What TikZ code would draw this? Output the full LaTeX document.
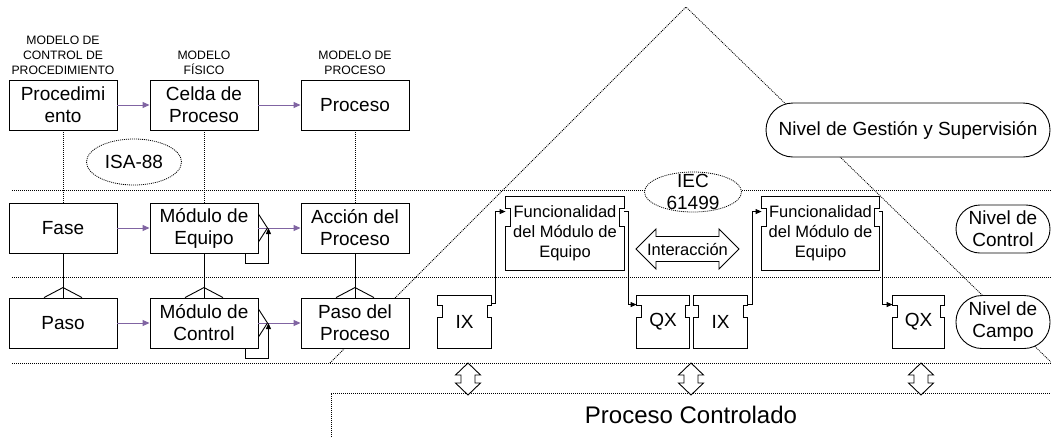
\documentclass[tikz,border=0pt]{standalone}
\usepackage{fontspec}
\setmainfont{Liberation Sans}
\usepackage{xcolor}
\usetikzlibrary{arrows.meta,shapes.geometric}
\definecolor{lila}{RGB}{128,100,162}

\newcommand{\bloque}[4]{%
  \draw (#1.north west) -- (#1.north east)
    -- ([yshift=-#2pt]#1.north east) -- ([shift={(-#4pt,-#2pt)}]#1.north east)
    -- ([shift={(-#4pt,-#3pt)}]#1.north east) -- ([yshift=-#3pt]#1.north east)
    -- (#1.south east) -- (#1.south west)
    -- ([yshift=-#3pt]#1.north west) -- ([shift={(#4pt,-#3pt)}]#1.north west)
    -- ([shift={(#4pt,-#2pt)}]#1.north west) -- ([yshift=-#2pt]#1.north west) -- cycle;}

\tikzset{
  texto/.style={font=\fontsize{19}{22}\selectfont},
  caja/.style={texto, draw, fill=white, minimum width=108pt, minimum height=50pt, inner sep=0pt, align=center},
  titulo/.style={font=\fontsize{12.2}{15}\selectfont, align=center, inner sep=0pt, anchor=south},
  punteada/.style={dash pattern=on 1pt off 1pt, line width=0.8pt},
  flecha/.style={lila, line width=1pt, -{Triangle[length=7pt,width=6pt]}},
  punta/.style={-{Triangle[length=6pt,width=5pt]}},
  nivel/.style={texto, draw, fill=white, align=center, inner sep=0pt},
  fb/.style={texto, inner sep=0pt, minimum width=53pt, minimum height=52pt},
  fbgrande/.style={font=\fontsize{16.5}{20}\selectfont, align=center, inner sep=0pt, minimum width=118pt, minimum height=73pt}
}

\begin{document}
\begin{tikzpicture}[x=1pt,y=-1pt,line width=0.9pt]
\useasboundingbox (0,0) rectangle (1051,437);

% niveles
\foreach \y in {190,277,363}
  \draw[punteada] (12,\y) -- (1051,\y);
\draw[punteada] (331,437) -- (331,393) -- (1051,393);
\draw[punteada] (330,363) -- (686,7) -- (1054,365);

% ISA-88
\node[titulo] (t1) at (63,75) {MODELO DE\\CONTROL DE\\PROCEDIMIENTO};
\node[titulo] (t2) at (204,75) {MODELO\\FÍSICO};
\node[titulo] (t3) at (355,75) {MODELO DE\\PROCESO};

\node[caja] (proc) at (63,105) {Procedimi\\ento};
\node[caja] (celda) at (204,105) {Celda de\\Proceso};
\node[caja] (proceso) at (355,105) {Proceso};
\node[caja] (fase) at (63,228) {Fase};
\node[caja] (meq) at (204,228) {Módulo de\\Equipo};
\node[caja] (accion) at (355,228) {Acción del\\Proceso};
\node[caja] (paso) at (63,323) {Paso};
\node[caja] (mctl) at (204,323) {Módulo de\\Control};
\node[caja] (pasop) at (355,323) {Paso del\\Proceso};

\node[texto, draw, ellipse, punteada, minimum width=95pt, minimum height=46pt, inner sep=0pt] (isa) at (134,162) {ISA-88};

\draw[flecha] (proc) -- (celda);
\draw[flecha] (celda) -- (proceso);
\draw[flecha] (fase) -- (meq);
\draw[flecha] (meq) -- (accion);
\draw[flecha] (paso) -- (mctl);
\draw[flecha] (mctl) -- (pasop);

\draw[punteada] (proc) -- (fase);
\draw[punteada] (celda) -- (meq);
\draw[punteada] (proceso) -- (accion);

\draw (fase) -- (paso);
\draw (meq) -- (mctl);
\draw (accion) -- (pasop);
\foreach \n in {paso,mctl,pasop}
  \draw ([xshift=-19pt]\n.north) -- ([yshift=10pt]\n.north) -- ([xshift=19pt]\n.north);

\foreach \n in {meq,mctl} {
  \draw ([yshift=14pt]\n.east) -- ([xshift=9pt]\n.east) -- ([yshift=-14pt]\n.east);
  \draw[punta] ([xshift=41pt]\n.south) -- ++(0,10) -| ([xshift=10pt]\n.east);
}

% IEC 61499
\node[draw, ellipse, punteada, fill=white, minimum width=97pt, minimum height=40pt] (iec) at (693,192) {};
\node[texto, align=center, inner sep=0pt] (iect) at (iec) {IEC\\61499};

\node[fbgrande] (func1) at (565,233.5) {Funcionalidad\\del Módulo de\\Equipo};
\node[fbgrande, minimum width=117pt] (func2) at (820.5,233.5) {Funcionalidad\\del Módulo de\\Equipo};
\bloque{func1}{12}{30}{5}
\bloque{func2}{12}{30}{5}

\node[fb] (ix1) at (464.5,322) {IX};
\node[fb, minimum width=52pt] (qx1) at (663,322) {QX};
\node[fb] (ix2) at (720.5,322) {IX};
\node[fb, minimum width=51pt] (qx2) at (918.5,322) {QX};
\foreach \n in {ix1,qx1,ix2,qx2} {
  \bloque{\n}{10}{22}{4.5}
}

\draw[punta] ([yshift=-8pt]ix1.north east) -- ++(4,0) |- ([yshift=-15pt]func1.north west);
\draw[punta] ([yshift=-15pt]func1.north east) -- ++(4,0) |- ([yshift=-9pt]qx1.north west);
\draw[punta] ([yshift=-9pt]ix2.north east) -- ++(5,0) |- ([yshift=-15pt]func2.north west);
\draw[punta] ([yshift=-15pt]func2.north east) -- ++(3,0) |- ([yshift=-9pt]qx2.north west);

\node[font=\fontsize{16.5}{20}\selectfont, inner sep=0pt] (inter) at (687.5,249) {Interacción};
\draw ([xshift=-51.5pt]inter.center) -- ++(20,-20) -- ++(0,7.5) -- ++(63,0) -- ++(0,-7.5)
  -- ++(20,20) -- ++(-20,20) -- ++(0,-7.5) -- ++(-63,0) -- ++(0,7.5) -- cycle;

% niveles de la piramide
\node[nivel, rounded corners=27pt, minimum width=284pt, minimum height=54pt] (gestion) at (908,130) {Nivel de Gestión y Supervisión};
\node[nivel, rounded corners=24pt, minimum width=94pt, minimum height=48pt] (control) at (1003,229) {Nivel de\\Control};
\node[nivel, rounded corners=26pt, minimum width=94pt, minimum height=53pt] (campo) at (1003,322) {Nivel de\\Campo};

% proceso
\node[font=\fontsize{24}{28}\selectfont, anchor=base] (pc) at (691,423) {Proceso Controlado};
\foreach \x in {468,691,921}
  \draw[fill=white] (\x,363) -- ++(12.5,12) -- ++(-5.5,0) -- ++(0,8) -- ++(5.5,0) -- ++(-12.5,12)
    -- ++(-12.5,-12) -- ++(5.5,0) -- ++(0,-8) -- ++(-5.5,0) -- cycle;
\end{tikzpicture}
\end{document}
